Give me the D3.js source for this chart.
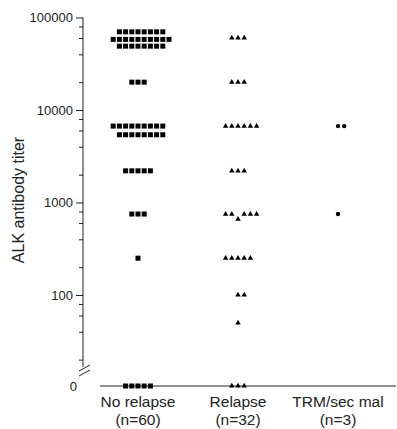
<!DOCTYPE html>
<html>
<head>
<meta charset="utf-8">
<script src="https://cdn.jsdelivr.net/npm/d3@7"></script>
<style>
  body { margin: 0; background: #fff; }
  text { font-family: "Liberation Sans", Arial, sans-serif; fill: #222; }
</style>
</head>
<body>
<script>
// categories and their group sizes
const categories = ["No relapse", "Relapse", "TRM/sec mal"];
const groupSizes = ["(n=60)", "(n=32)", "(n=3)"];

// titers (0 = below detection, drawn on the zero line)
const noRelapse = [
  70000, 70000, 70000, 70000, 70000, 70000, 70000, 70000,
  58000, 58000, 58000, 58000, 58000, 58000, 58000, 58000, 58000, 58000,
  49000, 49000, 49000, 49000, 49000, 49000, 49000, 49000,
  20000, 20000, 20000,
  6700, 6700, 6700, 6700, 6700, 6700, 6700, 6700, 6700,
  5400, 5400, 5400, 5400, 5400, 5400, 5400, 5400,
  2200, 2200, 2200, 2200, 2200,
  750, 750, 750,
  250,
  0, 0, 0, 0, 0
];
const relapse = [
  60000, 60000, 60000,
  20000, 20000, 20000,
  6700, 6700, 6700, 6700, 6700, 6700,
  2200, 2200, 2200,
  750, 750, 750, 750, 750, 660,
  250, 250, 250, 250, 250,
  100, 100,
  50,
  0, 0, 0
];
const trm = [6700, 6700, 750];

const majorTicks = [100, 1000, 10000, 100000];
const minorTicks = [20, 40, 60, 80, 200, 400, 600, 800, 2000, 4000, 6000, 8000,
                    20000, 40000, 60000, 80000];

const width = 397, height = 429;
const axisX = 83, zeroY = 386;

const svg = d3.select("body").append("svg")
  .attr("width", width).attr("height", height);

const y = d3.scaleLog().domain([100000, 10]).range([17.5, 387.5]);
const x = d3.scaleBand().domain(categories).range([88, 388]);

const yPos = v => v === 0 ? zeroY : y(v);

// y axis: major ticks with labels, minor ticks without
const major = svg.append("g")
  .attr("transform", `translate(${axisX},0)`)
  .call(d3.axisLeft(y).tickValues(majorTicks).tickSize(7).tickPadding(3)
    .tickFormat(d3.format("d")));
major.select(".domain").remove();
major.selectAll("text").style("font-size", "13px").attr("font-family", null);

const minor = svg.append("g")
  .attr("transform", `translate(${axisX},0)`)
  .call(d3.axisLeft(y).tickValues(minorTicks).tickSize(4).tickFormat(""));
minor.select(".domain").remove();

svg.selectAll(".tick line").attr("stroke", "#222");

svg.append("line")
  .attr("x1", axisX).attr("x2", axisX)
  .attr("y1", y(100000)).attr("y2", 367)
  .attr("stroke", "#222");

// axis break
[0, 5].forEach(o => {
  svg.append("line")
    .attr("x1", axisX - 4).attr("y1", 371 + o)
    .attr("x2", axisX + 7).attr("y2", 365 + o)
    .attr("stroke", "#222");
});

// zero line
svg.append("line")
  .attr("x1", 100).attr("x2", 396)
  .attr("y1", zeroY).attr("y2", zeroY)
  .attr("stroke", "#222");
svg.append("text")
  .attr("x", axisX - 6).attr("y", zeroY).attr("dy", "0.35em")
  .attr("text-anchor", "end").style("font-size", "13px")
  .text("0");

// y label
svg.append("text")
  .attr("transform", `translate(24,200) rotate(-90)`)
  .attr("text-anchor", "middle").style("font-size", "16px")
  .text("ALK antibody titer");

// category labels
categories.forEach((c, i) => {
  const cx = x(c) + x.bandwidth() / 2;
  svg.append("text").attr("x", cx).attr("y", 407)
    .attr("text-anchor", "middle").style("font-size", "15.5px").text(c);
  svg.append("text").attr("x", cx).attr("y", 425)
    .attr("text-anchor", "middle").style("font-size", "15.5px").text(groupSizes[i]);
});

// simple column scatter: place each point at the first free slot
function swarm(values, cx, d) {
  const sorted = values.slice().sort((a, b) => a - b);
  const placed = [];
  sorted.forEach(v => {
    const py = yPos(v);
    for (let k = 0; k < 40; k++) {
      const off = k === 0 ? 0 : (k % 2 ? (k + 1) / 2 : -k / 2);
      const px = cx + off * d;
      const hit = placed.some(p => Math.abs(p.x - px) < d - 0.01 && Math.abs(p.y - py) < d - 0.01);
      if (!hit) { placed.push({ x: px, y: py, v }); break; }
    }
  });
  return placed;
}

const groups = [
  { data: noRelapse, type: d3.symbolSquare, size: 25 },
  { data: relapse, type: d3.symbolTriangle, size: 13 },
  { data: trm, type: d3.symbolCircle, size: 15 }
];

groups.forEach((g, i) => {
  const cx = x(categories[i]) + x.bandwidth() / 2;
  const pts = swarm(g.data, cx, 6.2);
  svg.append("g").selectAll("path")
    .data(pts)
    .enter()
    .append("path")
    .attr("transform", d => `translate(${d.x},${d.y})`)
    .attr("d", d3.symbol().type(g.type).size(g.size))
    .attr("fill", "#000");
});
</script>
</body>
</html>
